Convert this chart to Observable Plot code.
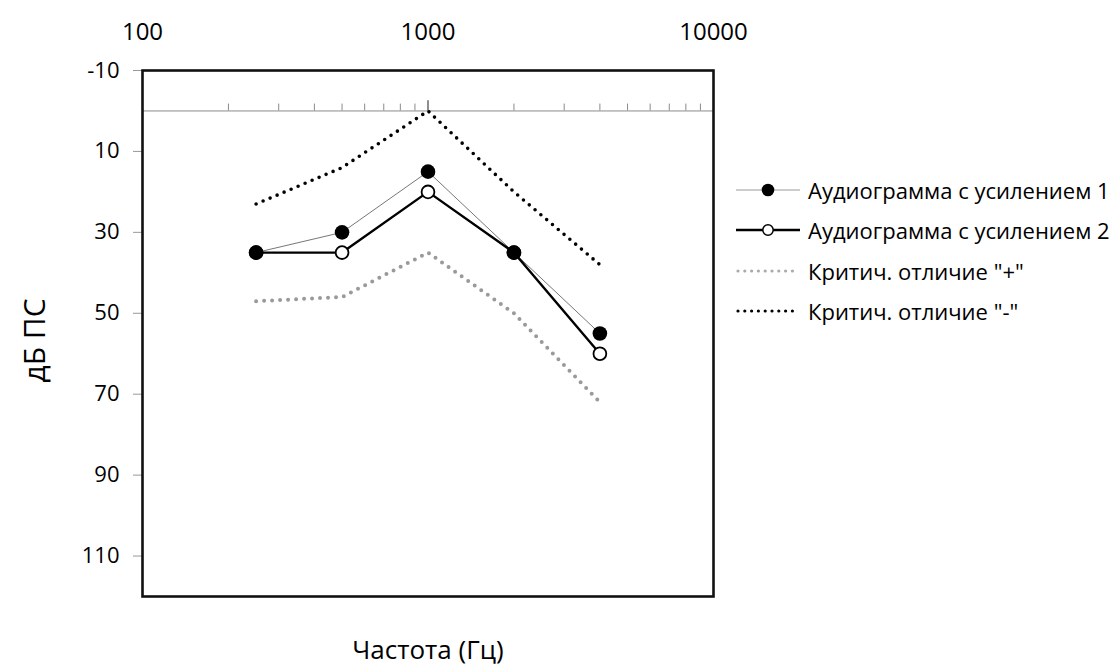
<!DOCTYPE html>
<html><head><meta charset="utf-8">
<script src="https://cdn.jsdelivr.net/npm/d3@7"></script>
<script src="https://cdn.jsdelivr.net/npm/@observablehq/plot@0.6"></script>
<style>
body{margin:0;background:#fff;font-family:"Open Sans",sans-serif;}
#wrap{position:relative;width:1120px;height:672px;}
#legend{position:absolute;left:734px;top:170px;}
.row{display:flex;align-items:center;height:40.3px;font-size:22px;color:#000;white-space:nowrap;}
.row svg{margin-right:6px;display:block}
</style></head><body><div id="wrap"><div id="chart"></div><div id="legend"></div></div>
<script>
const freqs = [250, 500, 1000, 2000, 4000];
const gain1 = [35, 30, 15, 35, 55];
const gain2 = [35, 35, 20, 35, 60];
const critPlus = [47, 46, 35, 50, 72];
const critMinus = [23, 14, 0, 20, 38];
const xTicks = [100, 1000, 10000];
const yTicks = [-10, 10, 30, 50, 70, 90, 110];
const minorTicks = [200,300,400,500,600,700,800,900,2000,3000,4000,5000,6000,7000,8000,9000];
const seriesNames = ["Аудиограмма с усилением 1", "Аудиограмма с усилением 2", "Критич. отличие \"+\"", "Критич. отличие \"-\""];
const xTitle = "Частота (Гц)";
const yTitle = "дБ ПС";

const rows = s => freqs.map((f, i) => ({f, v: s[i]}));
const d1 = rows(gain1), d2 = rows(gain2), dp = rows(critPlus), dm = rows(critMinus);

const chart = Plot.plot({
  width: 1120, height: 672,
  marginLeft: 142, marginRight: 407, marginTop: 70, marginBottom: 76,
  x: {type: "log", domain: [100, 10000]},
  y: {domain: [-10, 120], reverse: true},
  style: {fontFamily: "Open Sans, sans-serif", background: "white", color: "#000"},
  marks: [
    Plot.ruleY([0], {stroke: "#8a8a8a", strokeWidth: 1}),
    Plot.ruleX(minorTicks, {x: d => d, y1: 0, y2: -1.7, stroke: "#8a8a8a", strokeWidth: 1}),
    Plot.ruleX([1000], {x: d => d, y1: 0, y2: -2.5, stroke: "#444", strokeWidth: 1.2}),
    Plot.line(dm, {x: "f", y: "v", stroke: "#000", strokeWidth: 3.6, strokeDasharray: "0 7.6", strokeLinecap: "round"}),
    Plot.line(dp, {x: "f", y: "v", stroke: "#9a9a9a", strokeWidth: 4, strokeDasharray: "0 8", strokeLinecap: "round"}),
    Plot.line(d1, {x: "f", y: "v", stroke: "#777", strokeWidth: 1}),
    Plot.line(d2, {x: "f", y: "v", stroke: "#000", strokeWidth: 2.4}),
    Plot.dot(d2, {x: "f", y: "v", r: 6.4, fill: "white", stroke: "#000", strokeWidth: 1.8}),
    Plot.dot(d1, {x: "f", y: "v", r: 7.3, fill: "#000"}),
    Plot.axisX({anchor: "top", ticks: xTicks, tickFormat: d => String(d), tickSize: 0, tickPadding: 31, fontSize: 24, label: null}),
    Plot.axisY({anchor: "left", ticks: yTicks, tickFormat: d => String(d), tickSize: 9, tickPadding: 14, fontSize: 22, label: null, stroke: "#999", fill: "#000"}),
    Plot.text([yTitle], {text: d => d, frameAnchor: "left", textAnchor: "middle", rotate: -90, dx: -107, dy: 7, fontSize: 30}),
    Plot.text([xTitle], {text: d => d, frameAnchor: "bottom", dy: 62, fontSize: 26}),
    Plot.frame({stroke: "#111", strokeWidth: 2.6})
  ]
});
document.getElementById("chart").appendChild(chart);

const samples = [
  `<line x1="2" x2="66" y1="8" y2="8" stroke="#999" stroke-width="1.2"/><circle cx="34" cy="8" r="6.3" fill="#000"/>`,
  `<line x1="2" x2="66" y1="8" y2="8" stroke="#000" stroke-width="2.4"/><circle cx="34" cy="8" r="5.2" fill="white" stroke="#000" stroke-width="1.5"/>`,
  `<line x1="4" x2="64" y1="8" y2="8" stroke="#aaa" stroke-width="3.2" stroke-dasharray="0 6.8" stroke-linecap="round"/>`,
  `<line x1="4" x2="64" y1="8" y2="8" stroke="#000" stroke-width="3.2" stroke-dasharray="0 6.8" stroke-linecap="round"/>`
];
const legend = document.getElementById("legend");
seriesNames.forEach((name, i) => {
  const row = document.createElement("div");
  row.className = "row";
  row.innerHTML = `<svg width="68" height="16">${samples[i]}</svg><span>${name}</span>`;
  legend.appendChild(row);
});
</script></body></html>
